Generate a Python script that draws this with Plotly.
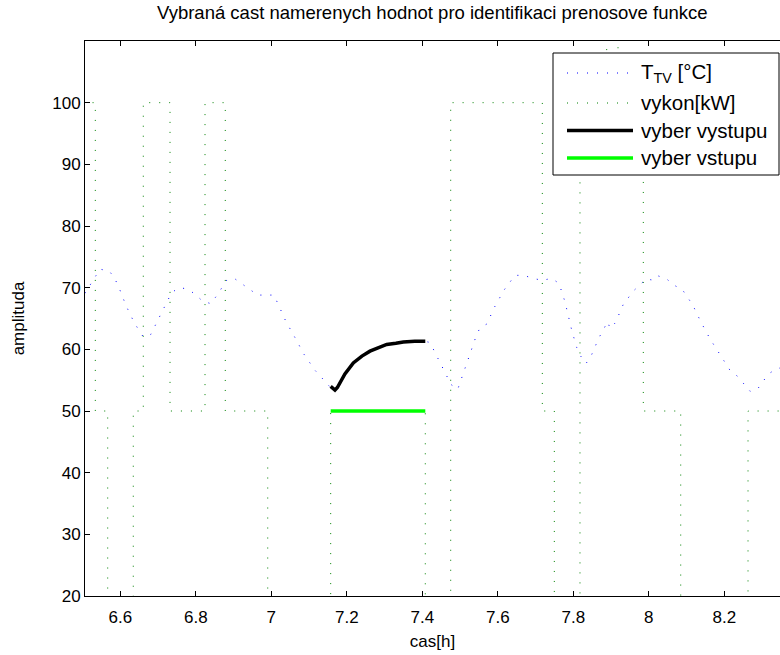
import plotly.graph_objects as go

# --- data ---------------------------------------------------------------
t_tv = [6.5065, 6.5197, 6.533, 6.5462, 6.5709, 6.5852, 6.5966, 6.6151, 6.6371, 6.6609,
        6.6805, 6.7025, 6.7245, 6.7362, 6.7555, 6.7785, 6.7987, 6.8164, 6.8395, 6.8554,
        6.8819, 6.902, 6.9232, 6.964, 7.0072, 7.0185, 7.0381, 7.0628, 7.0866, 7.1158,
        7.1449, 7.1555, 7.1687, 7.182, 7.2172, 7.2614, 7.3057, 7.3497, 7.4079, 7.4204,
        7.4318, 7.453, 7.476, 7.4938, 7.5113, 7.5282, 7.5423, 7.5528, 7.5706, 7.5918,
        7.6164, 7.6455, 7.6694, 7.6925, 7.7179, 7.7428, 7.7621, 7.778, 7.7958, 7.809,
        7.8196, 7.8337, 7.8469, 7.8673, 7.8911, 7.8972, 7.9113, 7.9317, 7.9582, 7.9926,
        8.0138, 8.0252, 8.0474, 8.0668, 8.0887, 8.1163, 8.1383, 8.1621, 8.1886, 8.2151,
        8.2355, 8.2522, 8.2681, 8.2874, 8.3017, 8.3166, 8.3369, 8.3608]
v_tv = [69.1, 70.4, 71.7, 73.0, 72.7, 71.5, 70.0, 67.1, 64.3, 62.0,
        62.4, 65.2, 67.8, 69.2, 70.0, 69.8, 68.9, 67.9, 67.4, 68.7,
        71.2, 71.5, 70.6, 68.8, 68.8, 67.3, 64.6, 61.9, 59.2, 56.6,
        54.6, 53.9, 53.4, 54.6, 57.8, 59.7, 60.8, 61.2, 61.3, 61.1,
        59.7, 57.0, 54.3, 53.5, 56.5, 59.5, 62.1, 63.5, 64.1, 66.9,
        69.6, 72.0, 72.0, 71.5, 71.2, 71.5, 70.7, 67.7, 63.1, 60.3,
        58.9, 57.7, 58.9, 61.8, 64.5, 63.4, 64.3, 67.2, 69.4, 71.4,
        71.2, 71.9, 71.4, 70.4, 69.7, 67.2, 64.4, 61.7, 59.2, 56.6,
        55.6, 54.4, 53.2, 53.5, 54.7, 56.0, 56.8, 57.2]

t_vykon = [6.50, 6.5338, 6.5338, 6.5666, 6.5666, 6.6344, 6.6344, 6.6609, 6.6609, 6.7317,
           6.7317, 6.8244, 6.8244, 6.8781, 6.8781, 6.9905, 6.9905, 7.1573, 7.1573, 7.4079,
           7.4079, 7.4752, 7.4752, 7.7179, 7.7179, 7.7497, 7.7497, 7.8177, 7.8177, 7.8884,
           7.8884, 7.9184, 7.9184, 7.9854, 7.9854, 8.0845, 8.0845, 8.2628, 8.2628, 8.40]
v_vykon = [100, 100, 50, 50, 0, 0, 50, 50, 100, 100,
           50, 50, 100, 100, 50, 50, 0, 0, 50, 50,
           0, 0, 100, 100, 50, 50, 0, 0, 100, 100,
           150, 150, 100, 100, 50, 50, 0, 0, 50, 50]

t_vystup = [7.1573, 7.163, 7.1687, 7.175, 7.182, 7.195, 7.2172, 7.24, 7.2614, 7.283,
            7.3057, 7.33, 7.3497, 7.38, 7.4079]
v_vystup = [54.0, 53.6, 53.4, 53.8, 54.6, 56.0, 57.8, 58.9, 59.7, 60.3,
            60.8, 61.0, 61.2, 61.3, 61.3]

t_vstup = [7.1573, 7.4079]
v_vstup = [50, 50]

x_ticks = [6.6, 6.8, 7.0, 7.2, 7.4, 7.6, 7.8, 8.0, 8.2]
x_ticklabels = ["6.6", "6.8", "7", "7.2", "7.4", "7.6", "7.8", "8", "8.2"]
y_ticks = [20, 30, 40, 50, 60, 70, 80, 90, 100]

legend_labels = ["T<sub>TV</sub> [°C]", "vykon[kW]", "vyber vystupu", "vyber vstupu"]

# --- figure -------------------------------------------------------------
FONT = "Liberation Sans, Arial, sans-serif"
W, H = 780, 655
L, R, T, B = 85, 0, 41, 59
pw, ph = W - L - R, H - T - B

def px(x):
    return (x - L) / pw

def py(y):
    return (H - B - y) / ph

fig = go.Figure()
fig.add_trace(go.Scatter(x=t_tv, y=v_tv, mode="lines",
                         line=dict(color="#0000ff", width=1, dash="1px,9px"),
                         showlegend=False))
fig.add_trace(go.Scatter(x=t_vykon, y=v_vykon, mode="lines",
                         line=dict(color="#008000", width=1, dash="1px,9px"),
                         showlegend=False))
fig.add_trace(go.Scatter(x=t_vystup, y=v_vystup, mode="lines",
                         line=dict(color="#000000", width=3.5),
                         showlegend=False))
fig.add_trace(go.Scatter(x=t_vstup, y=v_vstup, mode="lines",
                         line=dict(color="#00ff00", width=3.5),
                         showlegend=False))

# legend box drawn by hand (MATLAB style)
shapes = [dict(type="rect", xref="paper", yref="paper",
               x0=px(553), x1=px(779), y0=py(175), y1=py(53),
               fillcolor="white", line=dict(color="black", width=1), layer="above")]
leg_styles = [dict(color="#0000ff", width=1, dash="1px,9px"),
              dict(color="#008000", width=1, dash="1px,9px"),
              dict(color="#000000", width=3.5),
              dict(color="#00ff00", width=3.5)]
leg_y = [73, 103, 130.5, 158]
annotations = []
for lab, st, yy in zip(legend_labels, leg_styles, leg_y):
    shapes.append(dict(type="line", xref="paper", yref="paper",
                       x0=px(567), x1=px(633), y0=py(yy), y1=py(yy),
                       line=st, layer="above"))
    annotations.append(dict(text=lab, xref="paper", yref="paper",
                            x=px(639), y=py(yy), xanchor="left", yanchor="middle",
                            showarrow=False, font=dict(family=FONT, size=20.5, color="black")))

annotations.append(dict(text="Vybraná cast namerenych hodnot pro identifikaci prenosove funkce",
                        xref="paper", yref="paper", x=0.5, y=py(12), xanchor="center",
                        yanchor="middle", showarrow=False,
                        font=dict(family=FONT, size=18.5, color="black")))

fig.update_layout(
    width=W, height=H,
    margin=dict(l=L, r=R, t=T, b=B, pad=0),
    paper_bgcolor="white", plot_bgcolor="white",
    font=dict(family=FONT, size=17, color="black"),
    showlegend=False,
    shapes=shapes, annotations=annotations,
    xaxis=dict(range=[6.5065, 8.3475], tickvals=x_ticks, ticktext=x_ticklabels,
               ticks="inside", ticklen=5, tickcolor="black", showline=True,
               linecolor="black", linewidth=1, mirror="ticks", showgrid=False,
               zeroline=False, tickfont=dict(size=17), ticklabelstandoff=6,
               title=dict(text="cas[h]", standoff=8, font=dict(size=17))),
    yaxis=dict(range=[20, 110], tickvals=y_ticks,
               ticks="inside", ticklen=5, tickcolor="black", showline=True,
               linecolor="black", linewidth=1, mirror=False, showgrid=False,
               zeroline=False, tickfont=dict(size=17),
               title=dict(text="amplituda", standoff=23, font=dict(size=17))),
)

fig.write_html("out.html")
